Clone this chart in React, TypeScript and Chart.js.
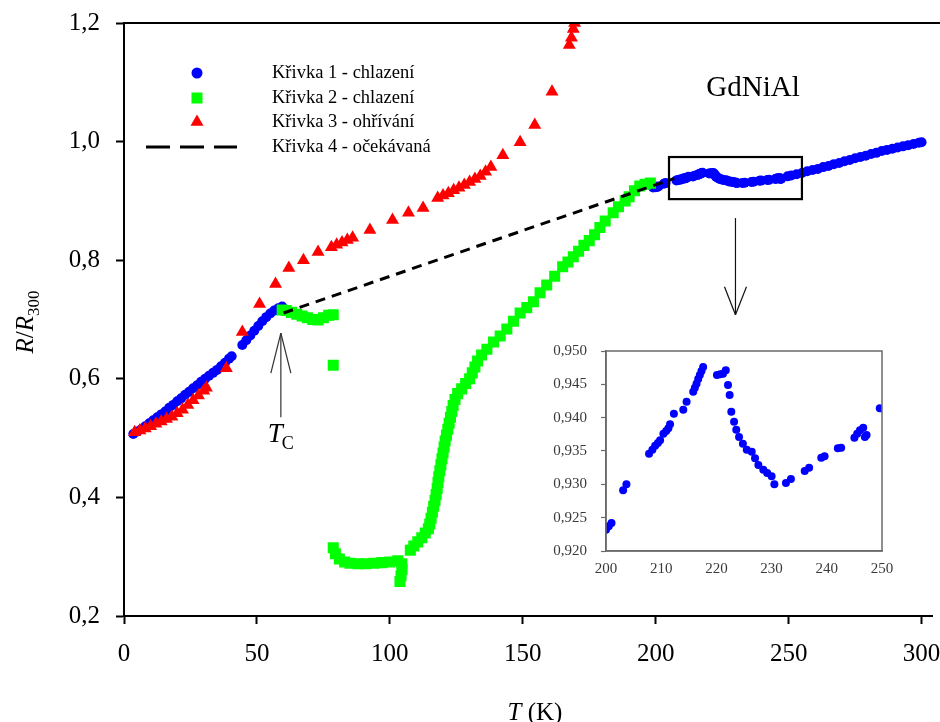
import React, { useEffect, useRef } from 'react';
import { Chart, registerables } from 'chart.js';

Chart.register(...registerables);

// ---- data (T in K, R/R300) ----
const curve1Low: [number, number][] = [
  [3.5, 0.507], [5, 0.511], [6.5, 0.515], [8, 0.52], [9.5, 0.525], [11, 0.53], [12.5, 0.535],
  [14, 0.54], [15.5, 0.545], [17, 0.551], [18.5, 0.556], [20, 0.562], [21.5, 0.567], [23, 0.573],
  [24.5, 0.578], [26, 0.584], [27.5, 0.589], [29, 0.595], [30.5, 0.6], [32, 0.605], [33.5, 0.61],
  [35, 0.615], [36.5, 0.621], [38, 0.627], [39.5, 0.634], [40.5, 0.638],
  [44.5, 0.657], [46, 0.665], [47.5, 0.673], [49, 0.681], [50.5, 0.689], [52, 0.697], [53.5, 0.704],
  [55, 0.71], [56.5, 0.715], [58, 0.719], [59.5, 0.722],
];

const curve1Anomaly: [number, number][] = [
  [199, 0.9225], [200, 0.9232], [200.5, 0.9237], [201, 0.9242], [203.1, 0.9291], [203.7, 0.93],
  [207.8, 0.9346], [208.4, 0.9352], [208.9, 0.9358], [209.4, 0.9362], [209.8, 0.9366], [210.4, 0.9376],
  [210.9, 0.938], [211.3, 0.9384], [211.6, 0.939], [212.3, 0.9406], [214, 0.9412], [214.6, 0.9424],
  [215.8, 0.9439], [216.1, 0.9445], [216.4, 0.9451], [216.7, 0.9458], [217, 0.9464], [217.3, 0.947],
  [217.6, 0.9476], [220.1, 0.9464], [220.7, 0.9465], [221.2, 0.9466], [221.7, 0.9471], [222.1, 0.9449],
  [222.4, 0.9434], [222.7, 0.9409], [223.2, 0.9394], [223.6, 0.9382], [224.1, 0.9371], [224.8, 0.9361],
  [225.5, 0.9352], [226.4, 0.9349], [227, 0.9339], [227.6, 0.9329], [228.5, 0.9322], [229.2, 0.9317],
  [230, 0.9312], [230.5, 0.93], [232.6, 0.9302], [233.5, 0.9308], [236, 0.932], [236.8, 0.9325],
  [239, 0.934], [239.6, 0.9342], [242, 0.9354], [242.6, 0.9355], [245, 0.937], [245.5, 0.9376],
  [246, 0.9381], [246.6, 0.9385], [246.9, 0.9371], [247.2, 0.9374], [249.6, 0.9414],
];

const curve1High: [number, number][] = [
  [251, 0.943], [253, 0.945], [255, 0.947], [257, 0.95], [259, 0.952], [261, 0.954], [263, 0.957],
  [265, 0.959], [267, 0.962], [269, 0.964], [271, 0.967], [273, 0.969], [275, 0.972], [277, 0.974],
  [279, 0.976], [281, 0.979], [283, 0.981], [285, 0.984], [287, 0.986], [289, 0.988], [291, 0.99],
  [293, 0.992], [295, 0.994], [297, 0.996], [299, 0.998], [300, 0.999],
];

const curve2: [number, number][] = [
  [59.5, 0.716], [61, 0.715], [63, 0.712], [65, 0.709], [67, 0.706], [69, 0.703], [71, 0.7],
  [73, 0.699], [75, 0.703], [77, 0.707], [78.7, 0.708], [78.7, 0.623],
  [78.7, 0.315], [79.5, 0.305], [81, 0.296], [83, 0.291], [85, 0.289], [88, 0.288], [91, 0.288],
  [94, 0.289], [97, 0.29], [100, 0.291], [103, 0.293], [104.5, 0.288], [104.6, 0.279], [104.2, 0.268],
  [103.8, 0.258],
  [107.7, 0.311], [109, 0.318], [110.5, 0.325], [112, 0.332], [113.3, 0.34], [114.5, 0.347],
  [115, 0.355], [115.5, 0.365], [116, 0.375], [116.5, 0.385], [117, 0.395], [117.4, 0.405],
  [117.8, 0.415], [118.1, 0.425], [118.4, 0.435], [118.8, 0.445], [119.2, 0.455], [119.6, 0.465],
  [120, 0.475], [120.4, 0.485], [120.8, 0.495], [121.3, 0.505], [121.8, 0.515], [122.3, 0.525],
  [122.8, 0.535], [123.3, 0.545], [123.8, 0.555], [124.5, 0.565], [125.5, 0.575], [127, 0.583],
  [128.5, 0.592], [130, 0.6], [131, 0.61], [132, 0.62], [133, 0.63], [134.5, 0.64], [136.5, 0.65],
  [139, 0.662], [141.5, 0.672], [144, 0.684], [146.5, 0.697], [149, 0.711], [151.5, 0.72],
  [154, 0.73], [156.5, 0.745], [159, 0.758], [162, 0.773], [165, 0.789], [167, 0.797], [169, 0.806],
  [171, 0.815], [173, 0.825], [175, 0.833], [177, 0.843], [179, 0.855], [181, 0.866], [184, 0.88],
  [186, 0.89], [188.5, 0.9], [190, 0.907], [192, 0.917], [194, 0.925], [196, 0.928], [198, 0.93],
];

const curve3: [number, number][] = [
  [4, 0.51], [6, 0.513], [8, 0.516], [10, 0.52], [12, 0.524], [14, 0.528], [16, 0.532], [18, 0.536],
  [20, 0.542], [22, 0.548], [24, 0.556], [26, 0.564], [28, 0.572], [30, 0.58], [31, 0.585],
  [38.5, 0.618], [44.5, 0.679], [51, 0.726], [57, 0.76], [62, 0.787], [67.5, 0.8], [73, 0.814],
  [78, 0.822], [80, 0.826], [82, 0.83], [84, 0.834], [86, 0.838], [92.5, 0.851], [101, 0.868],
  [107, 0.88], [112.5, 0.888], [118, 0.905], [120, 0.909], [122, 0.913], [124, 0.918], [126, 0.922],
  [128, 0.927], [130, 0.932], [132, 0.937], [134, 0.942], [136, 0.949], [138, 0.957], [142.5, 0.977],
  [149, 0.999], [154.5, 1.028], [161, 1.084], [167.5, 1.163], [168.3, 1.175], [169, 1.19], [169.5, 1.2],
];

const curve4: [number, number][] = [[60, 0.711], [207, 0.938]];

const curve1All = [...curve1Low, ...curve1Anomaly, ...curve1High];

const seriesLabels = ['Křivka 1 - chlazení', 'Křivka 2 - chlazení', 'Křivka 3 - ohřívání', 'Křivka 4 - očekávaná'];

const xTicksMain = [0, 50, 100, 150, 200, 250, 300];
const yTicksMain = [0.2, 0.4, 0.6, 0.8, 1.0, 1.2];
const xTicksInset = [200, 210, 220, 230, 240, 250];
const yTicksInset = [0.92, 0.925, 0.93, 0.935, 0.94, 0.945, 0.95];

// zoomed window (T range, R range) and marker positions in data units
const zoomBoxT = [205, 255];
const zoomBoxR = [0.903, 0.974];
const zoomArrow = { t: 230, from: 0.871, to: 0.708 };
const tcArrow = { t: 59, from: 0.535, to: 0.677 };

const BLUE = '#0000ff';
const GREEN = '#00ff00';
const RED = '#ff0000';
const SERIF = '"Liberation Serif", "Times New Roman", serif';

const toXY = (arr: [number, number][]) => arr.map(([x, y]) => ({ x, y }));

function drawCircle(ctx: CanvasRenderingContext2D, x: number, y: number, r: number, c: string) {
  ctx.fillStyle = c;
  ctx.beginPath();
  ctx.arc(x, y, r, 0, Math.PI * 2);
  ctx.fill();
}

function drawLine(ctx: CanvasRenderingContext2D, x1: number, y1: number, x2: number, y2: number) {
  ctx.beginPath();
  ctx.moveTo(x1, y1);
  ctx.lineTo(x2, y2);
  ctx.stroke();
}

// keep the plot area fixed: no extra room for overhanging tick labels
const noOverhangX = (h: number) => (s: any) => {
  s.height = h;
  s.paddingLeft = 0;
  s.paddingRight = 0;
};
const noOverhangY = (w: number) => (s: any) => {
  s.width = w;
  s.paddingTop = 0;
  s.paddingBottom = 0;
};

const mainDecor = {
  id: 'mainDecor',
  afterDatasetsDraw(chart: any) {
    const { ctx, chartArea: a } = chart;
    const xs = chart.scales.x;
    const ys = chart.scales.y;
    ctx.save();

    // top frame line
    ctx.strokeStyle = '#000';
    ctx.lineWidth = 2;
    drawLine(ctx, a.left, a.top, chart.width, a.top);

    // rectangle marking the zoomed window
    const bx0 = xs.getPixelForValue(zoomBoxT[0]);
    const bx1 = xs.getPixelForValue(zoomBoxT[1]);
    const by0 = ys.getPixelForValue(zoomBoxR[1]);
    const by1 = ys.getPixelForValue(zoomBoxR[0]);
    ctx.lineWidth = 2.2;
    ctx.strokeRect(bx0, by0, bx1 - bx0, by1 - by0);

    // arrow down to the inset
    ctx.lineWidth = 1.2;
    ctx.strokeStyle = '#111';
    const ax = xs.getPixelForValue(zoomArrow.t);
    const ay0 = ys.getPixelForValue(zoomArrow.from);
    const ay1 = ys.getPixelForValue(zoomArrow.to);
    drawLine(ctx, ax, ay0, ax, ay1);
    drawLine(ctx, ax - 11, ay1 - 28, ax, ay1);
    drawLine(ctx, ax + 11, ay1 - 28, ax, ay1);

    // Curie temperature arrow
    const tx = xs.getPixelForValue(tcArrow.t);
    const ty0 = ys.getPixelForValue(tcArrow.from);
    const ty1 = ys.getPixelForValue(tcArrow.to);
    ctx.strokeStyle = '#333';
    drawLine(ctx, tx, ty0, tx, ty1);
    drawLine(ctx, tx - 10, ty1 + 40, tx, ty1);
    drawLine(ctx, tx + 10, ty1 + 40, tx, ty1);

    ctx.fillStyle = '#000';
    ctx.textBaseline = 'alphabetic';
    ctx.textAlign = 'left';
    ctx.font = `italic 27px ${SERIF}`;
    ctx.fillText('T', tx - 13, ty0 + 25);
    const tw = ctx.measureText('T').width;
    ctx.font = `18px ${SERIF}`;
    ctx.fillText('C', tx - 14 + tw, ty0 + 32);

    // sample name
    ctx.font = `29px ${SERIF}`;
    ctx.textAlign = 'center';
    ctx.fillText('GdNiAl', 753, 96);

    // legend
    const lx = 197;
    const rowY = [73, 98, 122, 147];
    drawCircle(ctx, lx, rowY[0], 5.5, BLUE);
    ctx.fillStyle = GREEN;
    ctx.fillRect(lx - 5.5, rowY[1] - 5.5, 11, 11);
    ctx.fillStyle = RED;
    ctx.beginPath();
    ctx.moveTo(lx, rowY[2] - 7.5);
    ctx.lineTo(lx + 6.5, rowY[2] + 3.75);
    ctx.lineTo(lx - 6.5, rowY[2] + 3.75);
    ctx.closePath();
    ctx.fill();
    ctx.strokeStyle = '#000';
    ctx.lineWidth = 3;
    ctx.setLineDash([24, 10]);
    drawLine(ctx, 146, rowY[3], 237, rowY[3]);
    ctx.setLineDash([]);
    ctx.fillStyle = '#000';
    ctx.textAlign = 'left';
    ctx.textBaseline = 'middle';
    ctx.font = `18.5px ${SERIF}`;
    seriesLabels.forEach((s, i) => ctx.fillText(s, 272, rowY[i]));

    // x axis title: T (K)
    ctx.textBaseline = 'alphabetic';
    ctx.font = `italic 25px ${SERIF}`;
    const wT = ctx.measureText('T ').width;
    ctx.font = `25px ${SERIF}`;
    const wK = ctx.measureText('(K)').width;
    const startX = 535 - (wT + wK) / 2;
    ctx.font = `italic 25px ${SERIF}`;
    ctx.fillText('T ', startX, 720);
    ctx.font = `25px ${SERIF}`;
    ctx.fillText('(K)', startX + wT, 720);

    // y axis title: R/R300
    ctx.save();
    ctx.translate(33, 322);
    ctx.rotate(-Math.PI / 2);
    const parts = [
      { s: 'R', f: `italic 25px ${SERIF}`, dy: 0 },
      { s: '/', f: `25px ${SERIF}`, dy: 0 },
      { s: 'R', f: `italic 25px ${SERIF}`, dy: 0 },
      { s: '300', f: `17px ${SERIF}`, dy: 6 },
    ];
    let total = 0;
    const widths = parts.map((p) => {
      ctx.font = p.f;
      const w = ctx.measureText(p.s).width;
      total += w;
      return w;
    });
    let cx = -total / 2;
    parts.forEach((p, i) => {
      ctx.font = p.f;
      ctx.fillText(p.s, cx, p.dy);
      cx += widths[i];
    });
    ctx.restore();

    ctx.restore();
  },
};

const insetDecor = {
  id: 'insetDecor',
  afterDraw(chart: any) {
    const { ctx, chartArea: a } = chart;
    ctx.save();
    ctx.strokeStyle = '#6a6a6a';
    ctx.lineWidth = 1.5;
    ctx.strokeRect(a.left, a.top, a.right - a.left, a.bottom - a.top);
    ctx.restore();
  },
};

export default function App() {
  const mainRef = useRef<HTMLCanvasElement>(null);
  const insetRef = useRef<HTMLCanvasElement>(null);

  useEffect(() => {
    const main = new Chart(mainRef.current!, {
      type: 'scatter',
      data: {
        datasets: [
          {
            label: seriesLabels[3],
            data: toXY(curve4),
            showLine: true,
            borderColor: '#000',
            borderWidth: 3,
            borderDash: [10, 7],
            pointRadius: 0,
            order: 0,
          },
          {
            label: seriesLabels[2],
            data: toXY(curve3),
            pointStyle: 'triangle',
            pointRadius: 7.5,
            backgroundColor: RED,
            borderWidth: 0,
            order: 1,
          },
          {
            label: seriesLabels[1],
            data: toXY(curve2),
            pointStyle: 'rect',
            pointRadius: 7.8,
            backgroundColor: GREEN,
            borderWidth: 0,
            order: 2,
          },
          {
            label: seriesLabels[0],
            data: toXY(curve1All),
            pointStyle: 'circle',
            pointRadius: 5,
            backgroundColor: BLUE,
            borderWidth: 0,
            order: 3,
          },
        ],
      },
      options: {
        responsive: false,
        animation: false,
        events: [],
        layout: { padding: { top: 23, right: 3, left: 0, bottom: 0 } },
        plugins: { legend: { display: false }, tooltip: { enabled: false } },
        scales: {
          x: {
            type: 'linear',
            min: 0,
            max: 304,
            afterFit: noOverhangX(106),
            afterBuildTicks: (s: any) => { s.ticks = xTicksMain.map((v) => ({ value: v })); },
            grid: { drawOnChartArea: false, drawTicks: true, tickLength: 8, tickColor: '#000', tickWidth: 2 },
            border: { display: true, color: '#000', width: 2 },
            ticks: {
              color: '#000',
              font: { family: SERIF, size: 25 },
              padding: 15,
              maxRotation: 0,
              callback: (v: any) => String(v),
            },
          },
          y: {
            type: 'linear',
            min: 0.2,
            max: 1.2,
            afterFit: noOverhangY(124),
            afterBuildTicks: (s: any) => { s.ticks = yTicksMain.map((v) => ({ value: v })); },
            grid: { drawOnChartArea: false, drawTicks: true, tickLength: 8, tickColor: '#000', tickWidth: 2 },
            border: { display: true, color: '#000', width: 2 },
            ticks: {
              color: '#000',
              font: { family: SERIF, size: 25 },
              padding: 16,
              callback: (v: any) => Number(v).toFixed(1).replace('.', ','),
            },
          },
        },
      },
      plugins: [mainDecor],
    });

    const inset = new Chart(insetRef.current!, {
      type: 'scatter',
      data: {
        datasets: [
          {
            label: seriesLabels[0],
            data: toXY(curve1All.filter(([t]) => t >= 200 && t <= 250)),
            pointStyle: 'circle',
            pointRadius: 4,
            backgroundColor: BLUE,
            borderWidth: 0,
          },
        ],
      },
      options: {
        responsive: false,
        animation: false,
        events: [],
        layout: { padding: { top: 21, right: 18, left: 0, bottom: 0 } },
        plugins: { legend: { display: false }, tooltip: { enabled: false } },
        scales: {
          x: {
            type: 'linear',
            min: 200,
            max: 250,
            afterFit: noOverhangX(39),
            afterBuildTicks: (s: any) => { s.ticks = xTicksInset.map((v) => ({ value: v })); },
            grid: { drawOnChartArea: false, drawTicks: false },
            border: { display: true, color: '#6a6a6a', width: 1.5 },
            ticks: {
              color: '#3a3a3a',
              font: { family: SERIF, size: 15 },
              padding: 9,
              maxRotation: 0,
              callback: (v: any) => String(v),
            },
          },
          y: {
            type: 'linear',
            min: 0.92,
            max: 0.95,
            afterFit: noOverhangY(76),
            afterBuildTicks: (s: any) => { s.ticks = yTicksInset.map((v) => ({ value: v })); },
            grid: { drawOnChartArea: false, drawTicks: true, tickLength: 5, tickColor: '#6a6a6a', tickWidth: 1.2 },
            border: { display: true, color: '#6a6a6a', width: 1.5 },
            ticks: {
              color: '#3a3a3a',
              font: { family: SERIF, size: 15 },
              padding: 14,
              callback: (v: any) => Number(v).toFixed(3).replace('.', ','),
            },
          },
        },
      },
      plugins: [insetDecor],
    });

    return () => {
      main.destroy();
      inset.destroy();
    };
  }, []);

  return (
    <div style={{ position: 'fixed', left: 0, top: 0, width: 940, height: 722, background: '#fff' }}>
      <canvas ref={mainRef} width={940} height={722} style={{ position: 'absolute', left: 0, top: 0 }} />
      <canvas ref={insetRef} width={370} height={260} style={{ position: 'absolute', left: 530, top: 330 }} />
    </div>
  );
}
